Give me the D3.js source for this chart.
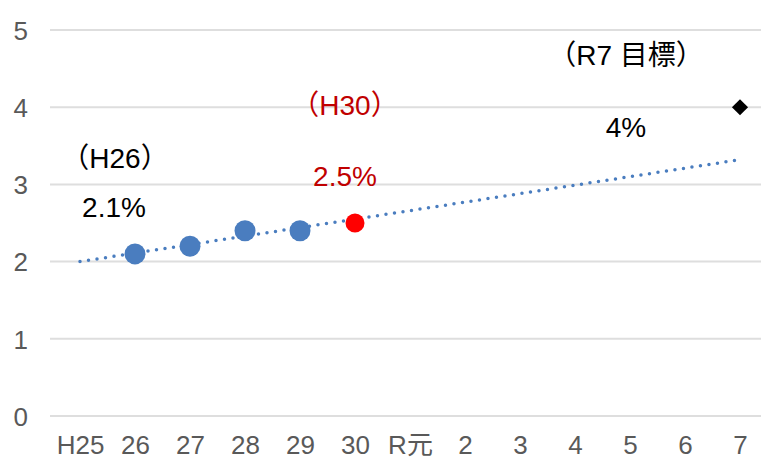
<!DOCTYPE html>
<html>
<head>
<meta charset="utf-8">
<script src="https://cdn.jsdelivr.net/npm/d3@7"></script>
<style>
    body { margin: 0; background: #fff; }
    text { font-family: "Liberation Sans", Arial, "Noto Sans CJK JP", sans-serif; }
</style>
</head>
<body>
<div id="chart"></div>
<script>
// data
const categories = ["H25", "26", "27", "28", "29", "30", "R元", "2", "3", "4", "5", "6", "7"];
const yTicks = [0, 1, 2, 3, 4, 5];

const actualYears = ["26", "27", "28", "29"];
const actualValues = [2.1, 2.2, 2.4, 2.4];

const latestYear = "30";
const latestValue = 2.5;

const targetYear = "7";
const targetValue = 4;

const trendYears = ["H25", "7"];
const trendValues = [2.0, 3.32];

// chart
const width = 761;
const height = 461;

const svg = d3.select("div#chart")
    .append("svg")
    .attr("width", width)
    .attr("height", height);

const x = d3.scalePoint().domain(categories).range([80, 740]);
const y = d3.scaleLinear().domain([0, 5]).range([416, 30]);

// grid
const grid = svg.append("g").attr("class", "grid");
grid.selectAll("line")
    .data(yTicks)
    .enter()
    .append("line")
    .attr("x1", 50)
    .attr("x2", width)
    .attr("y1", d => y(d))
    .attr("y2", d => y(d))
    .attr("stroke", "#dedede")
    .attr("stroke-width", 2);

// axes
const yAxis = d3.axisLeft(y).tickValues(yTicks).tickFormat(d3.format("d")).tickSize(0).tickPadding(0);
const yAxisGroup = svg.append("g")
    .attr("transform", "translate(28,0)")
    .call(yAxis);

const xAxis = d3.axisBottom(x).tickSize(0).tickPadding(0);
const xAxisGroup = svg.append("g")
    .attr("transform", "translate(0,436)")
    .call(xAxis);

[yAxisGroup, xAxisGroup].forEach(g => {
    g.select(".domain").remove();
    g.selectAll("text")
        .attr("fill", "#595959")
        .style("font-size", "26px");
});
xAxisGroup.selectAll("text").attr("dy", "0.71em");
yAxisGroup.selectAll("text").attr("dy", "0.36em");

// trend line
const trend = trendYears.map((c, i) => [x(c), y(trendValues[i])]);
svg.append("path")
    .attr("d", d3.line()(trend))
    .attr("fill", "none")
    .attr("stroke", "#4a7dbf")
    .attr("stroke-width", 3.5)
    .attr("stroke-linecap", "round")
    .attr("stroke-dasharray", "0 8.6");

// points
svg.append("g")
    .selectAll("circle")
    .data(actualYears)
    .enter()
    .append("circle")
    .attr("cx", d => x(d))
    .attr("cy", (d, i) => y(actualValues[i]))
    .attr("r", 10.5)
    .attr("fill", "#4a7dbf");

svg.append("circle")
    .attr("cx", x(latestYear))
    .attr("cy", y(latestValue))
    .attr("r", 9.5)
    .attr("fill", "#ff0000");

svg.append("path")
    .attr("d", d3.symbol().type(d3.symbolSquare).size(130)())
    .attr("transform", `translate(${x(targetYear)},${y(targetValue)}) rotate(45)`)
    .attr("fill", "#000");

// labels
const labels = svg.append("g").attr("class", "labels")
    .attr("text-anchor", "middle")
    .style("font-size", "28px");

labels.append("text").attr("x", 115).attr("y", 168).attr("fill", "#000").text("（H26）");
labels.append("text").attr("x", 114).attr("y", 217).attr("fill", "#000").text("2.1%");
labels.append("text").attr("x", 345).attr("y", 115).attr("fill", "#c00000").text("（H30）");
labels.append("text").attr("x", 345).attr("y", 186).attr("fill", "#c00000").text("2.5%");
labels.append("text").attr("x", 626).attr("y", 65).attr("fill", "#000").text("（R7 目標）");
labels.append("text").attr("x", 626).attr("y", 137).attr("fill", "#000").text("4%");
</script>
</body>
</html>
